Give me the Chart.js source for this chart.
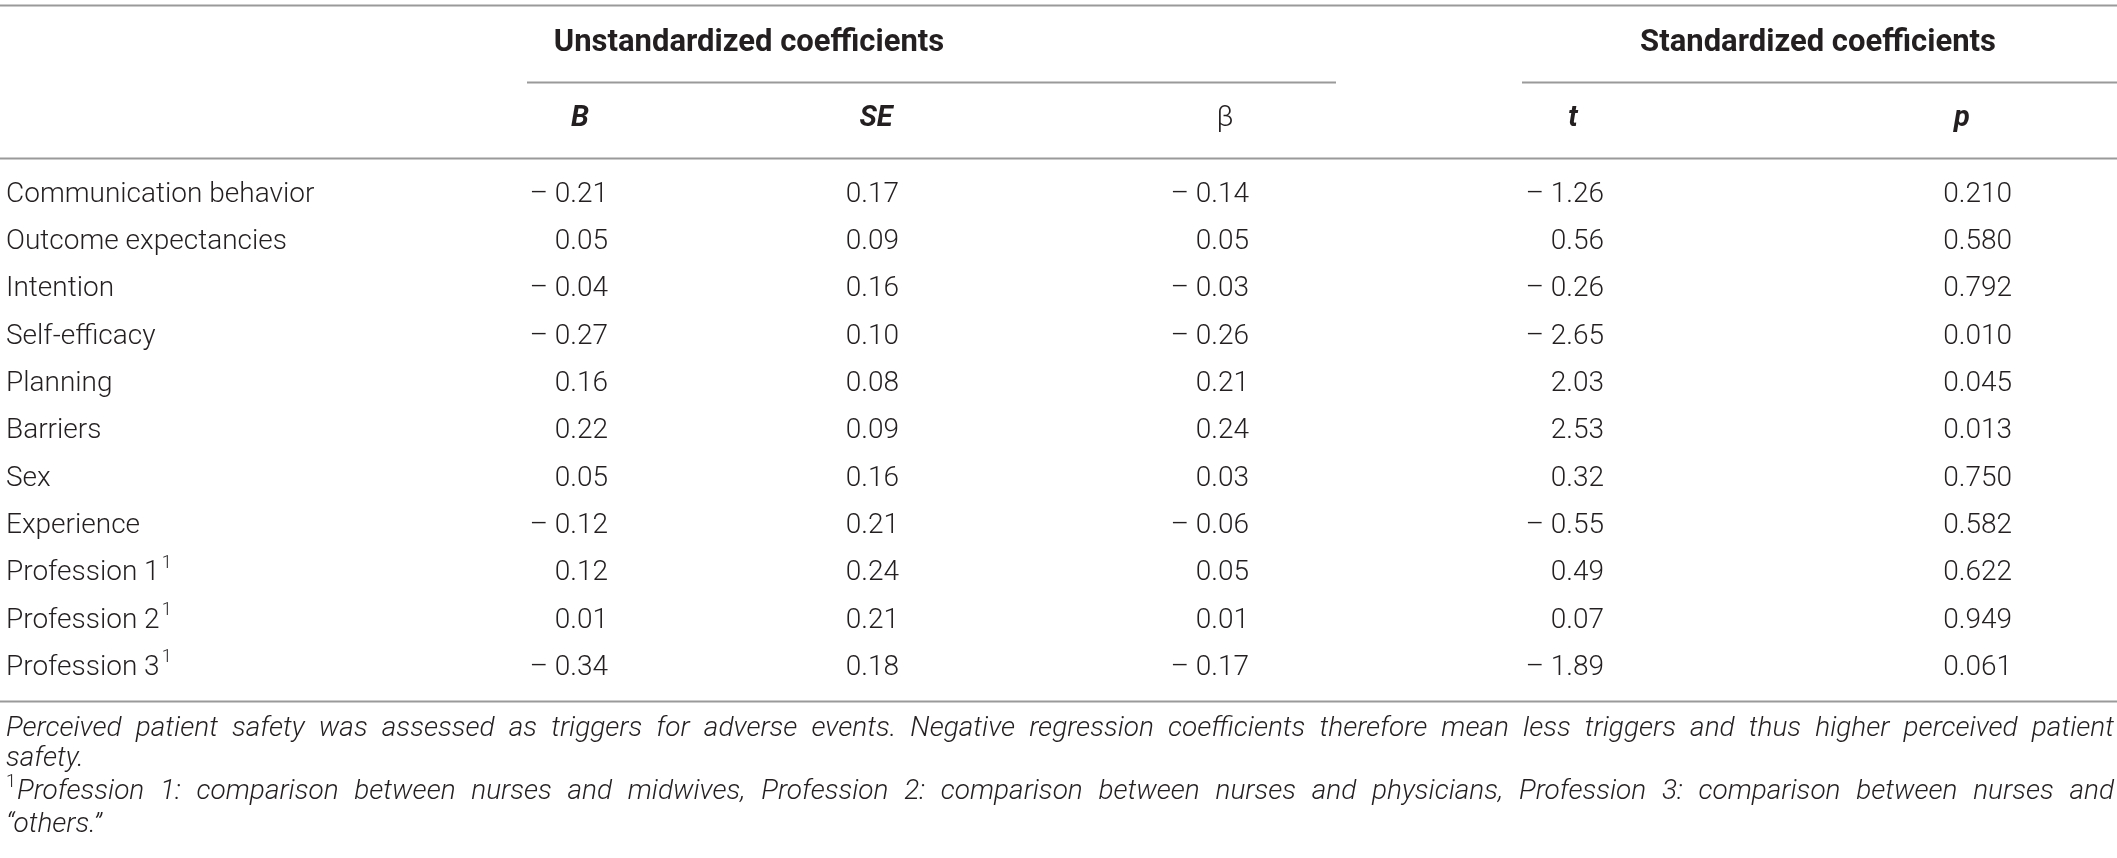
<!DOCTYPE html>
<html>
<head>
<meta charset="utf-8">
<script src="https://cdn.jsdelivr.net/npm/chart.js@4.4.1/dist/chart.umd.min.js"></script>
<style>
  html, body { margin: 0; padding: 0; background: #fff; }
  #wrap { width: 2117px; height: 858px; }
</style>
</head>
<body>
<div id="wrap"><canvas id="coefTable" width="2117" height="858"></canvas></div>
<script>
// table content
const rowLabels = ['Communication behavior', 'Outcome expectancies', 'Intention', 'Self-efficacy', 'Planning',
  'Barriers', 'Sex', 'Experience', 'Profession 1', 'Profession 2', 'Profession 3'];
const rowMarks = ['', '', '', '', '', '', '', '', '1', '1', '1'];
const groupHeads = ['Unstandardized coefficients', 'Standardized coefficients'];
const colHeads = ['B', 'SE', 'β', 't', 'p'];
const valB = [-0.21, 0.05, -0.04, -0.27, 0.16, 0.22, 0.05, -0.12, 0.12, 0.01, -0.34];
const valSE = [0.17, 0.09, 0.16, 0.10, 0.08, 0.09, 0.16, 0.21, 0.24, 0.21, 0.18];
const valBeta = [-0.14, 0.05, -0.03, -0.26, 0.21, 0.24, 0.03, -0.06, 0.05, 0.01, -0.17];
const valT = [-1.26, 0.56, -0.26, -2.65, 2.03, 2.53, 0.32, -0.55, 0.49, 0.07, -1.89];
const valP = [0.210, 0.580, 0.792, 0.010, 0.045, 0.013, 0.750, 0.582, 0.622, 0.949, 0.061];
const notes = [
  'Perceived patient safety was assessed as triggers for adverse events. Negative regression coefficients therefore mean less triggers and thus higher perceived patient',
  'safety.',
  'Profession 1: comparison between nurses and midwives, Profession 2: comparison between nurses and physicians, Profession 3: comparison between nurses and',
  '\u201cothers.\u201d'
];
const noteMarks = ['', '', '1', ''];

// layout (x in pixels of the table, y in row units)
const columns = [valB, valSE, valBeta, valT, valP];
const colDecimals = [2, 2, 2, 2, 3];
const colRight = [608, 899, 1249, 1604, 2012];
const colCenter = [580, 876, 1225, 1573, 1962];
const headItalic = [true, true, false, true, true];
const groupCenter = [749, 1818];
const groupLine = [[527, 1336], [1522, 2117]];
const labelX = 6;
const rowGroupHead = -3.2, rowColHead = -1.6;
const fullLines = [-4.02, -0.78, 10.7];
const groupLineRow = -2.39;
const noteRows = [11.3, 11.93, 12.63, 13.33];
const noteJustify = [true, false, true, false];
const noteWidth = 2108;

const ink = '#231f20';
const rule = '#9a9a9a';
const FONT = 'Roboto, "Liberation Sans", sans-serif';

function fmt(v, d) {
  const s = Math.abs(v).toFixed(d);
  return v < 0 ? '\u2013 ' + s : s;
}

const tablePlugin = {
  id: 'tableText',
  afterDatasetsDraw(chart) {
    const { ctx, scales: { x, y } } = chart;
    ctx.save();
    ctx.fillStyle = ink;
    ctx.textBaseline = 'middle';

    // rules
    ctx.strokeStyle = rule;
    ctx.lineWidth = 2;
    fullLines.forEach(r => {
      const py = Math.round(y.getPixelForValue(r)) + 0.5;
      ctx.beginPath();
      ctx.moveTo(x.getPixelForValue(0), py);
      ctx.lineTo(x.getPixelForValue(2117), py);
      ctx.stroke();
    });
    groupLine.forEach(([a, b]) => {
      const py = Math.round(y.getPixelForValue(groupLineRow)) + 0.5;
      ctx.beginPath();
      ctx.moveTo(x.getPixelForValue(a), py);
      ctx.lineTo(x.getPixelForValue(b), py);
      ctx.stroke();
    });

    // group headers
    ctx.font = `700 31px ${FONT}`;
    ctx.textAlign = 'center';
    groupHeads.forEach((t, i) => {
      ctx.fillText(t, x.getPixelForValue(groupCenter[i]), y.getPixelForValue(rowGroupHead));
    });

    // column headers
    colHeads.forEach((t, i) => {
      ctx.font = headItalic[i] ? `italic 700 29px ${FONT}` : `300 29px ${FONT}`;
      ctx.fillText(t, x.getPixelForValue(colCenter[i]), y.getPixelForValue(rowColHead));
    });

    // row labels
    ctx.textAlign = 'left';
    rowLabels.forEach((t, r) => {
      const px = x.getPixelForValue(labelX), py = y.getPixelForValue(r);
      ctx.font = `300 28px ${FONT}`;
      ctx.fillText(t, px, py);
      if (rowMarks[r]) {
        const w = ctx.measureText(t).width;
        ctx.font = `300 18px ${FONT}`;
        ctx.fillText(rowMarks[r], px + w + 2, py - 10);
      }
    });

    // cells, placed on the dataset points
    ctx.textAlign = 'right';
    ctx.font = `300 28px ${FONT}`;
    columns.forEach((vals, c) => {
      chart.getDatasetMeta(c).data.forEach((pt, r) => {
        ctx.fillText(fmt(vals[r], colDecimals[c]), pt.x, pt.y);
      });
    });

    // notes: keep the type height, squeeze width so line 1 fills the row
    ctx.textAlign = 'left';
    const noteFont = `italic 300 28px ${FONT}`;
    ctx.font = noteFont;
    const x0 = x.getPixelForValue(labelX);
    const sx = Math.min(1, (noteWidth) / ctx.measureText(notes[0]).width);
    notes.forEach((t, i) => {
      let px = x0;
      const py = y.getPixelForValue(noteRows[i]);
      if (noteMarks[i]) {
        ctx.font = `300 18px ${FONT}`;
        ctx.fillText(noteMarks[i], px, py - 10);
        px += ctx.measureText(noteMarks[i]).width + 1;
      }
      ctx.font = noteFont;
      const avail = noteWidth - (px - x0);
      ctx.save();
      ctx.translate(px, py);
      ctx.scale(sx, 1);
      const words = t.split(' ');
      if (noteJustify[i] && words.length > 1) {
        const sum = words.reduce((s, w) => s + ctx.measureText(w).width, 0);
        const gap = (avail / sx - sum) / (words.length - 1);
        let cx = 0;
        words.forEach(w => {
          ctx.fillText(w, cx, 0);
          cx += ctx.measureText(w).width + gap;
        });
      } else {
        ctx.fillText(t, 0, 0);
      }
      ctx.restore();
    });
    ctx.restore();
  }
};

new Chart('coefTable', {
  type: 'scatter',
  data: {
    datasets: columns.map((vals, c) => ({
      label: colHeads[c],
      data: vals.map((_, r) => ({ x: colRight[c], y: r })),
      pointRadius: 0,
      pointHoverRadius: 0,
      showLine: false
    }))
  },
  plugins: [tablePlugin],
  options: {
    responsive: false,
    animation: false,
    events: [],
    layout: { padding: 0 },
    plugins: {
      legend: { display: false },
      tooltip: { enabled: false }
    },
    scales: {
      x: { type: 'linear', min: 0, max: 2117, display: false },
      y: { type: 'linear', min: -4.12, max: 14.02, reverse: true, display: false }
    }
  }
});
</script>
</body>
</html>
